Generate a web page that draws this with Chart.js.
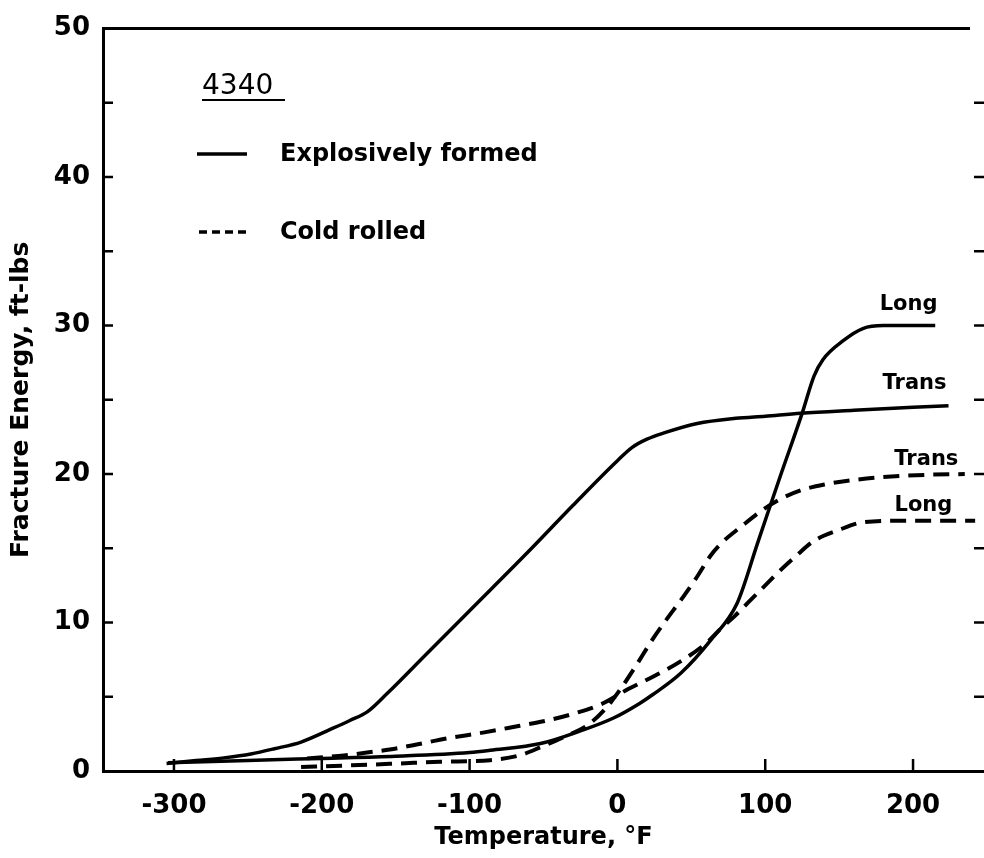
<!DOCTYPE html>
<html>
<head>
<meta charset="utf-8">
<script src="https://cdn.jsdelivr.net/npm/chart.js@4.4.0/dist/chart.umd.min.js"></script>
<style>
  html, body { margin: 0; padding: 0; background: #fff; }
  #wrap { width: 984px; height: 858px; position: relative; }
</style>
</head>
<body>
<div id="wrap"><canvas id="chart"></canvas></div>
<script>
// Axis ticks
const xTicks = [-300, -200, -100, 0, 100, 200];
const yTicks = [0, 10, 20, 30, 40, 50];
const yMinorTicks = [5, 15, 25, 35, 45];

// Explosively formed - Trans
const efTransX = [-305, -285, -265, -248, -232, -214, -192, -181, -169, -156, -130, -100, -60, -30, 0, 10, 20, 31, 54, 80, 100, 124, 160, 200, 224];
const efTransY = [0.5, 0.7, 0.9, 1.15, 1.5, 1.95, 2.9, 3.4, 4.0, 5.2, 7.8, 10.8, 14.8, 17.9, 20.9, 21.8, 22.35, 22.75, 23.4, 23.75, 23.9, 24.1, 24.3, 24.5, 24.6];

// Explosively formed - Long
const efLongX = [-304, -250, -200, -150, -100, -86, -52, -25, -3, 15, 24, 43, 63, 81, 95, 110, 125, 133, 139, 153, 166, 180, 200, 215];
const efLongY = [0.55, 0.7, 0.85, 1.0, 1.25, 1.4, 1.85, 2.7, 3.55, 4.55, 5.15, 6.6, 8.8, 11.3, 15.4, 19.8, 24.1, 26.6, 27.7, 29.0, 29.8, 30.0, 30.0, 30.0];

// Cold rolled - Trans
const crTransX = [-214, -180, -149, -120, -86, -66, -52, -36, -20, -8, 2, 12, 24, 31, 45, 54, 63, 72, 83, 97, 110, 124, 140, 160, 180, 210, 235];
const crTransY = [0.27, 0.38, 0.5, 0.62, 0.73, 1.06, 1.6, 2.3, 3.1, 4.2, 5.5, 7.0, 8.9, 9.9, 11.8, 13.1, 14.5, 15.5, 16.4, 17.5, 18.3, 18.9, 19.3, 19.6, 19.8, 19.95, 20.0];

// Cold rolled - Long
const crLongX = [-210, -185, -165, -154, -135, -115, -90, -66, -50, -30, -11, 7, 25, 43, 60, 70, 79, 88, 101, 110, 121, 133, 149, 166, 190, 215, 242];
const crLongY = [0.85, 1.05, 1.3, 1.45, 1.8, 2.2, 2.6, 3.05, 3.35, 3.85, 4.5, 5.5, 6.4, 7.4, 8.6, 9.6, 10.4, 11.3, 12.6, 13.5, 14.5, 15.5, 16.2, 16.75, 16.85, 16.85, 16.85];

// Curve labels (placed in data coordinates)
const curveLabels = [
  { text: 'Long', x: 197, y: 31.4 },
  { text: 'Trans', x: 201, y: 26.1 },
  { text: 'Trans', x: 209, y: 20.95 },
  { text: 'Long', x: 207, y: 17.85 },
];

const toPoints = (xs, ys) => xs.map((v, i) => ({ x: v, y: ys[i] }));

const lineStyle = {
  borderColor: '#000',
  borderWidth: 3.5,
  pointRadius: 0,
  fill: false,
  cubicInterpolationMode: 'monotone',
};

const FONT = '"DejaVu Sans", sans-serif';

// Frame, inner ticks, legend and labels
const framePlugin = {
  id: 'frame',
  afterDatasetsDraw(chart) {
    const { ctx, chartArea: a, scales: { x, y } } = chart;
    ctx.save();
    ctx.strokeStyle = '#000';
    ctx.fillStyle = '#000';
    ctx.lineCap = 'butt';

    // top border
    ctx.lineWidth = 3;
    ctx.beginPath();
    ctx.moveTo(a.left, a.top);
    ctx.lineTo(a.right - 14, a.top);
    ctx.stroke();

    // tick marks pointing inward
    ctx.lineWidth = 2.5;
    ctx.beginPath();
    yTicks.concat(yMinorTicks).forEach(v => {
      if (v === 0 || v === 50) return;
      const py = y.getPixelForValue(v);
      ctx.moveTo(a.left, py);
      ctx.lineTo(a.left + 10, py);
      ctx.moveTo(a.right, py);
      ctx.lineTo(a.right - 10, py);
    });
    xTicks.forEach(v => {
      const px = x.getPixelForValue(v);
      ctx.moveTo(px, a.bottom);
      ctx.lineTo(px, a.bottom - 12);
    });
    ctx.stroke();

    // legend
    ctx.textBaseline = 'middle';
    ctx.textAlign = 'left';
    ctx.font = '28px ' + FONT;
    ctx.fillText('4340', 202, 87);
    ctx.lineWidth = 2;
    ctx.beginPath();
    ctx.moveTo(202, 100);
    ctx.lineTo(285, 100);
    ctx.stroke();

    ctx.lineWidth = 3.5;
    ctx.beginPath();
    ctx.moveTo(197, 154);
    ctx.lineTo(247, 154);
    ctx.stroke();
    ctx.setLineDash([8, 5]);
    ctx.beginPath();
    ctx.moveTo(199, 232);
    ctx.lineTo(247, 232);
    ctx.stroke();
    ctx.setLineDash([]);

    ctx.font = 'bold 24px ' + FONT;
    ctx.fillText('Explosively formed', 280, 155);
    ctx.fillText('Cold rolled', 280, 233);

    // curve labels
    ctx.textAlign = 'center';
    ctx.font = 'bold 21px ' + FONT;
    curveLabels.forEach(l => {
      ctx.fillText(l.text, x.getPixelForValue(l.x), y.getPixelForValue(l.y));
    });
    ctx.restore();
  }
};

new Chart(document.getElementById('chart'), {
  type: 'line',
  data: {
    datasets: [
      { label: 'Explosively formed Trans', data: toPoints(efTransX, efTransY), ...lineStyle },
      { label: 'Explosively formed Long', data: toPoints(efLongX, efLongY), ...lineStyle },
      { label: 'Cold rolled Trans', data: toPoints(crTransX, crTransY), ...lineStyle, borderWidth: 4, borderDash: [16, 9] },
      { label: 'Cold rolled Long', data: toPoints(crLongX, crLongY), ...lineStyle, borderWidth: 4, borderDash: [16, 9] },
    ],
  },
  options: {
    responsive: true,
    maintainAspectRatio: false,
    animation: false,
    events: [],
    layout: { padding: { top: 17, right: 0, bottom: 0, left: 0 } },
    plugins: {
      legend: { display: false },
      tooltip: { enabled: false },
    },
    scales: {
      x: {
        type: 'linear',
        min: -348,
        max: 248,
        afterFit: s => { s.height = 87; },
        afterBuildTicks: s => { s.ticks = xTicks.map(v => ({ value: v })); },
        grid: { drawOnChartArea: false, drawTicks: false },
        border: { display: true, color: '#000', width: 3 },
        ticks: {
          color: '#000',
          padding: 20,
          maxRotation: 0,
          autoSkip: false,
          font: { family: FONT, size: 26, weight: 'bold' },
          callback: v => String(v),
        },
        title: {
          display: true,
          text: 'Temperature, °F',
          color: '#000',
          padding: { top: 0, bottom: 6 },
          font: { family: FONT, size: 24, weight: 'bold' },
        },
      },
      y: {
        type: 'linear',
        min: 0,
        max: 50,
        afterFit: s => { s.width = 103; },
        afterBuildTicks: s => { s.ticks = yTicks.map(v => ({ value: v })); },
        grid: { drawOnChartArea: false, drawTicks: false },
        border: { display: true, color: '#000', width: 3 },
        ticks: {
          color: '#000',
          padding: 13,
          autoSkip: false,
          font: { family: FONT, size: 26, weight: 'bold' },
        },
        title: {
          display: true,
          text: 'Fracture Energy, ft-lbs',
          color: '#000',
          padding: { top: 6, bottom: 0 },
          font: { family: FONT, size: 25, weight: 'bold' },
        },
      },
    },
  },
  plugins: [framePlugin],
});
</script>
</body>
</html>
